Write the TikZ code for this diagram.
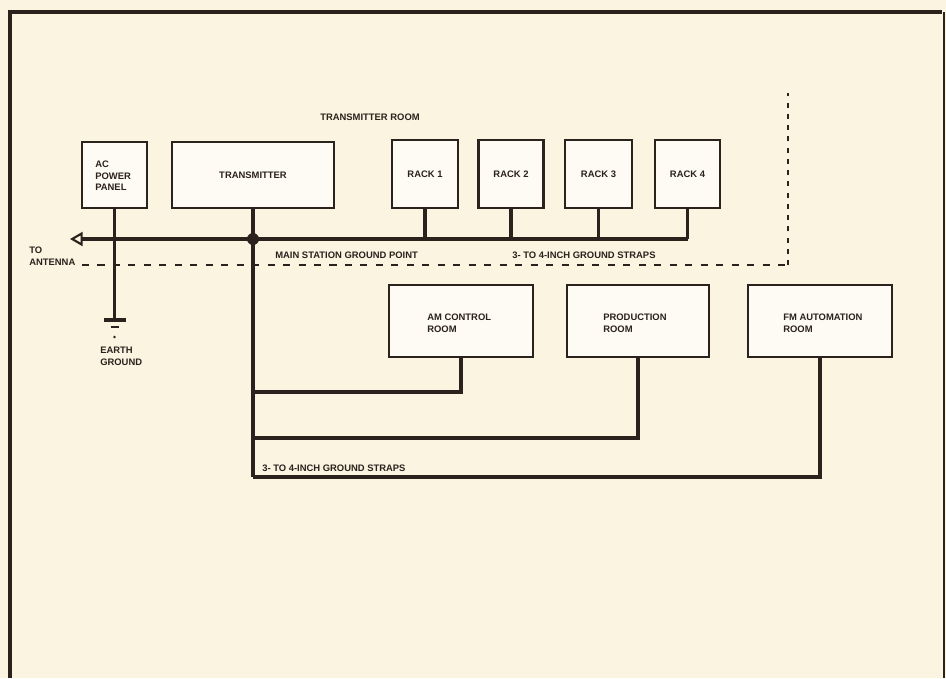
\documentclass[tikz,border=0pt]{standalone}
\usepackage{fontspec}
\setmainfont{Liberation Sans}
\usetikzlibrary{arrows.meta,calc}
\definecolor{paper}{HTML}{FAF4E1}
\definecolor{boxfill}{HTML}{FDFBF3}
\definecolor{ink}{HTML}{2B211D}
\tikzset{
  x=0.025cm, y=-0.025cm,
  box/.style 2 args={draw=ink, line width=1.5pt, fill=boxfill,
    minimum width=#1*0.025cm, minimum height=#2*0.025cm, inner sep=0pt},
  lbl/.style={font=\fontsize{6.7}{8.3}\selectfont\bfseries, text=ink, inner sep=0pt, align=left},
  strap/.style={draw=ink, line width=2.2pt, line join=miter},
  roomline/.style={draw=ink, line width=1.1pt, dash pattern=on 5pt off 6pt},
}
\begin{document}
\begin{tikzpicture}
% page and frame
\fill[paper] (0,0) rectangle (946,678);
\useasboundingbox (0,0) rectangle (946,678);
\draw[ink, line width=3pt] (10,678) -- (10,12) -- (942,12);
\draw[ink, line width=0.8pt] (944,12) -- (944,678);

% transmitter room boundary
\draw[roomline] (82,265) -- (788,265);
\draw[roomline, dash pattern=on 3.5pt off 4.5pt] (788,265) -- (788,93);
\node[lbl, anchor=west] (room) at (320,117) {TRANSMITTER ROOM};

% equipment in the transmitter room
\node[box={65}{66}] (acp) at (114.5,175) {};
\node[lbl, anchor=west] at (95,176) {AC\\POWER\\PANEL};
\node[box={162}{66}] (tx) at (253,175) {};
\node[lbl] at (tx) {TRANSMITTER};
\node[box={66}{68}] (r1) at (425,174) {};
\node[lbl] at (r1) {RACK 1};
\node[box={65}{68}] (r2) at (511,174) {};
\node[lbl] at (r2) {RACK 2};
\node[box={67}{68}] (r3) at (598.5,174) {};
\node[lbl] at (r3) {RACK 3};
\node[box={65}{68}] (r4) at (687.5,174) {};
\node[lbl] at (r4) {RACK 4};

% main ground bus
\coordinate (ant) at (70,239);
\coordinate (J) at (253,239);
\coordinate (busend) at (r4.south |- J);
\draw[strap, {Triangle[open, length=9pt, width=10pt, line width=1.5pt]}-] (ant) -- (busend);
\foreach \r in {r1,r2,r3,r4} \draw[strap] (\r.south) -- (\r.south |- J);
\draw[strap] (tx.south) -- (J);
\fill[ink] (J) circle (6);
\node[lbl, anchor=west] at (29,256) {TO\\ANTENNA};
\node[lbl, anchor=west] at (275,255) {MAIN STATION GROUND POINT};
\node[lbl, anchor=west] at (512,255) {3- TO 4-INCH GROUND STRAPS};

% earth ground
\coordinate (gnd) at (114.5,320);
\draw[strap] (acp.south) -- (gnd);
\draw[ink, line width=2.4pt] ($(gnd)+(-11,0)$) -- ($(gnd)+(11,0)$);
\draw[ink, line width=1.8pt] ($(gnd)+(-4,7)$) -- ($(gnd)+(4,7)$);
\fill[ink] ($(gnd)+(0,17)$) circle (1.3);
\node[lbl, anchor=west] at (100,356) {EARTH\\GROUND};

% other rooms
\node[box={144}{72}] (am) at (461,321) {};
\node[lbl, anchor=west] at (427,323) {AM CONTROL\\ROOM};
\node[box={142}{72}] (pr) at (638,321) {};
\node[lbl, anchor=west] at (603,323) {PRODUCTION\\ROOM};
\node[box={144}{72}] (fm) at (820,321) {};
\node[lbl, anchor=west] at (783,323) {FM AUTOMATION\\ROOM};

% straps to the other rooms
\coordinate (trunk) at (253,477);
\draw[strap] (J) -- (trunk);
\draw[strap] (am.south) -- (am.south |- 0,392) -- (J |- 0,392);
\draw[strap] (pr.south) -- (pr.south |- 0,438) -- (J |- 0,438);
\draw[strap] (fm.south) -- (fm.south |- trunk) -- (trunk);
\node[lbl, anchor=west] at (262,468) {3- TO 4-INCH GROUND STRAPS};
\end{tikzpicture}
\end{document}
